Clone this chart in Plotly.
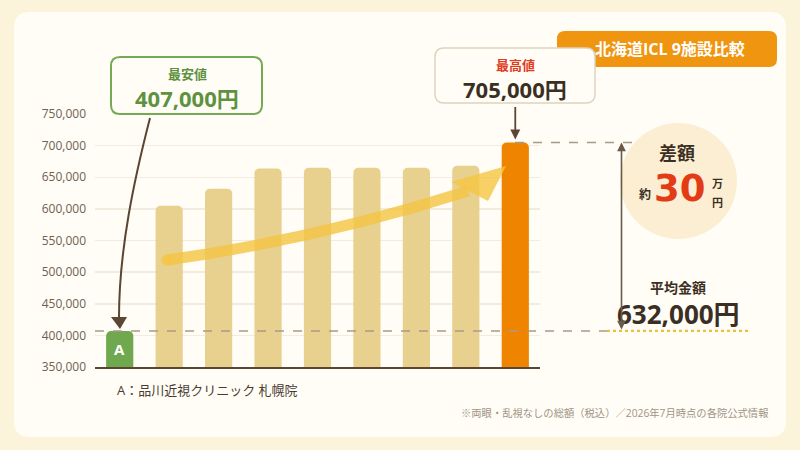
import plotly.graph_objects as go

# Data
clinics = ['A', 'B', 'C', 'D', 'E', 'F', 'G', 'H', 'I']
prices = [407000, 605000, 632000, 664000, 665000, 665000, 665000, 668000, 705000]
y_ticks = [350000, 400000, 450000, 500000, 550000, 600000, 650000, 700000, 750000]
y_floor = 350000
min_price = min(prices)
max_price = max(prices)
avg_label = '632,000円'
diff_label = '30'
title = '北海道ICL 9施設比較'
caption = 'A：品川近視クリニック 札幌院'
note = '※両眼・乱視なしの総額（税込）／2026年7月時点の各院公式情報'

FONT = 'Open Sans, Noto Sans CJK JP'
DARK = '#3b2f24'
BROWN = '#5a4632'

# plot area in pixels
L, R, T, B = 95, 540, 114, 367


def fx(p):
    return (p - L) / (R - L)


def fy(p):
    return (B - p) / (B - T)


def pt(x, y):
    return f'{fx(x):.5f},{fy(y):.5f}'


def rrect(x0, y0, x1, y1, r):
    return ('M' + pt(x0 + r, y0) + ' L' + pt(x1 - r, y0) + ' Q' + pt(x1, y0) + ' ' + pt(x1, y0 + r) +
            ' L' + pt(x1, y1 - r) + ' Q' + pt(x1, y1) + ' ' + pt(x1 - r, y1) +
            ' L' + pt(x0 + r, y1) + ' Q' + pt(x0, y1) + ' ' + pt(x0, y1 - r) +
            ' L' + pt(x0, y0 + r) + ' Q' + pt(x0, y0) + ' ' + pt(x0 + r, y0) + ' Z')


colors = ['#6fa84f'] + ['#e8d08e'] * (len(prices) - 2) + ['#ee8400']

fig = go.Figure()
fig.add_trace(go.Bar(
    x=clinics, y=prices, width=0.55, marker=dict(color=colors, line=dict(width=0), cornerradius=5),
    hoverinfo='skip', showlegend=False,
))

shapes = [
    # card
    dict(type='path', path=rrect(14, 12, 786, 437, 16), xref='paper', yref='paper',
         fillcolor='#fffdf6', line=dict(width=0), layer='below'),
    # difference circle
    dict(type='circle', xref='paper', yref='paper', x0=fx(620), x1=fx(737), y0=fy(123), y1=fy(239),
         fillcolor='#fbeed3', line=dict(width=0), layer='below'),
    # min / max reference lines
    dict(type='line', xref='paper', yref='y', x0=fx(95), x1=fx(607), y0=min_price, y1=min_price,
         line=dict(color='#a99a86', width=1.5, dash='dash'), layer='above'),
    dict(type='line', xref='paper', yref='y', x0=fx(515), x1=fx(636), y0=max_price, y1=max_price,
         line=dict(color='#a99a86', width=1.5, dash='dash'), layer='above'),
    dict(type='line', xref='paper', yref='y', x0=fx(607), x1=fx(748), y0=min_price, y1=min_price,
         line=dict(color='#e9bf3c', width=2.2, dash='dot'), layer='above'),
    # rising trend arrow
    dict(type='path', xref='paper', yref='paper',
         path='M' + pt(167, 260) + ' Q' + pt(318, 239) + ' ' + pt(468, 191),
         line=dict(color='#f5c542', width=11), opacity=0.8, layer='above'),
    dict(type='circle', xref='paper', yref='paper', x0=fx(161.5), x1=fx(172.5), y0=fy(254.5), y1=fy(265.5),
         fillcolor='#f5c542', line=dict(width=0), opacity=0.8, layer='above'),
    dict(type='path', xref='paper', yref='paper',
         path='M' + pt(506, 166) + ' L' + pt(451, 182) + ' L' + pt(488, 201) + ' Z',
         fillcolor='#f5c542', line=dict(width=0), opacity=0.8, layer='above'),
    # curved arrow to cheapest bar
    dict(type='path', xref='paper', yref='paper',
         path='M' + pt(150, 118) + ' C' + pt(134, 180) + ' ' + pt(119, 250) + ' ' + pt(119, 318),
         line=dict(color=BROWN, width=2), layer='above'),
    dict(type='path', xref='paper', yref='paper',
         path='M' + pt(120, 329) + ' L' + pt(111, 317) + ' L' + pt(127, 317) + ' Z',
         fillcolor=BROWN, line=dict(width=0), layer='above'),
    # title badge
    dict(type='path', path=rrect(557, 31, 777, 67, 8), xref='paper', yref='paper',
         fillcolor='#f0950f', line=dict(width=0), layer='above'),
    # callout boxes
    dict(type='path', path=rrect(111, 57, 262, 114, 9), xref='paper', yref='paper',
         fillcolor='#fffdf6', line=dict(color='#74aa55', width=2), layer='above'),
    dict(type='path', path=rrect(435, 48, 595, 103, 9), xref='paper', yref='paper',
         fillcolor='#fffdf6', line=dict(color='#ddd4bf', width=1.5), layer='above'),
]


def txt(x, y, s, size, color=DARK, bold=True, anchor='center', family=FONT):
    return dict(x=fx(x), y=fy(y), xref='paper', yref='paper', text=s, showarrow=False,
                xanchor=anchor, yanchor='middle',
                font=dict(family=family, size=size, color=color, weight='bold' if bold else 'normal'))


annotations = [
    txt(670, 49, title, 16, 'white'),
    txt(187, 74, '最安値', 13, '#5e9140'),
    txt(187, 98, f'{min_price:,}円', 22, '#5e9140'),
    txt(515, 65, '最高値', 13, '#e03a1e'),
    txt(515, 89, f'{max_price:,}円', 22, DARK),
    txt(677, 153, '差額', 18),
    txt(645, 194, '約', 12),
    txt(680, 188, diff_label, 37, '#e23b16', family='DejaVu Sans'),
    txt(717, 183, '万', 11),
    txt(717, 202, '円', 11),
    txt(678, 287, '平均金額', 14),
    txt(678, 314, avg_label, 26),
    txt(115, 390, caption, 13, '#4a3c30', bold=False, anchor='left'),
    txt(770, 413, note, 10.3, '#a09484', bold=False, anchor='right'),
    # label on the cheapest bar
    dict(x=clinics[0], y=(min_price + y_floor) / 2, xref='x', yref='y', text='A', showarrow=False,
         font=dict(family=FONT, size=15, color='white', weight='bold')),
    # arrow from max callout to the top bar
    dict(x=clinics[-1], y=max_price, xref='x', yref='y', ax=0, ay=-37, axref='pixel', ayref='pixel',
         text='', showarrow=True, arrowhead=2, arrowsize=1.1, arrowwidth=1.8, arrowcolor=BROWN, standoff=3),
    # double arrow showing the spread
    dict(x=fx(621.5), y=max_price, xref='paper', yref='y', ax=0, ay=min_price, axref='pixel', ayref='y',
         text='', showarrow=True, arrowhead=2, startarrowhead=2, arrowside='end+start',
         arrowsize=1.1, arrowwidth=1.6, arrowcolor='#6a5a48'),
]

fig.update_layout(
    width=800, height=450, autosize=False,
    margin=dict(l=L, r=800 - R, t=T, b=450 - B, pad=0),
    paper_bgcolor='#fbf3da', plot_bgcolor='rgba(0,0,0,0)',
    font=dict(family=FONT, color=DARK),
    shapes=shapes, annotations=annotations,
    xaxis=dict(showticklabels=False, showgrid=False, showline=True, linecolor=BROWN, linewidth=2,
               ticks='', range=[-0.5, len(clinics) - 0.5], fixedrange=True),
    yaxis=dict(range=[y_floor, 750000], tickvals=y_ticks, tickformat=',d', showgrid=True,
               gridcolor='#f1ecdd', gridwidth=1.5, zeroline=False, showline=False,
               ticks='', ticklabelstandoff=8,
               tickfont=dict(family=FONT, size=12, color='#6e6152')),
)

fig.write_html("out.html", config={'displayModeBar': False, 'staticPlot': True},
               post_script="document.body.style.margin='0';")
